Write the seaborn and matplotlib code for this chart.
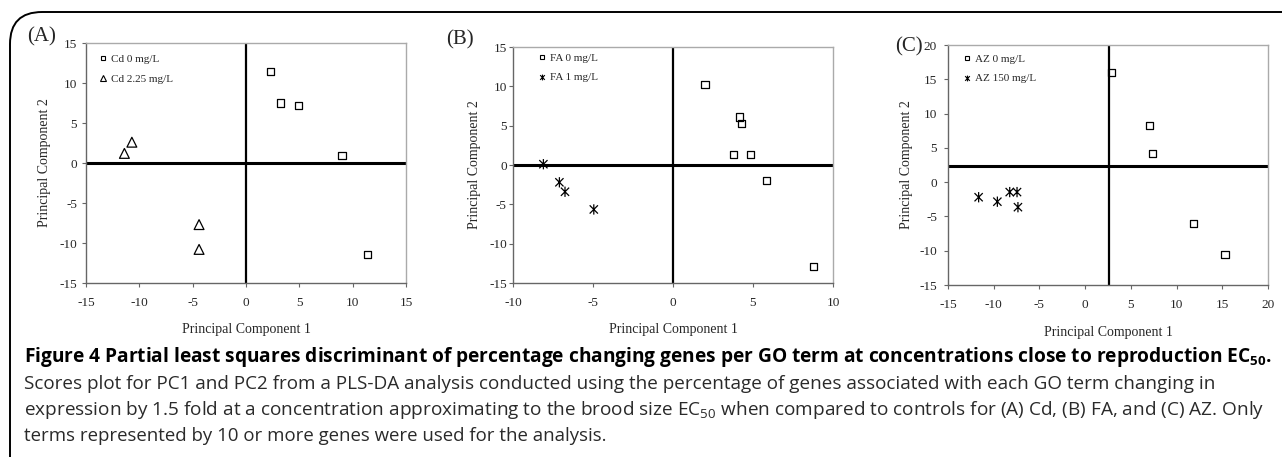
import numpy as np
import pandas as pd
import matplotlib
matplotlib.use("Agg")
import matplotlib.pyplot as plt
import seaborn as sns
from matplotlib.path import Path
from matplotlib.lines import Line2D
from matplotlib.patches import FancyBboxPatch

# ---------------- data ----------------
# Panel A (Cd)
cd0_pc1 = [2.3, 3.2, 4.9, 9.0, 11.4]
cd0_pc2 = [11.4, 7.5, 7.2, 0.9, -11.4]
cd225_pc1 = [-11.4, -10.7, -4.4, -4.4]
cd225_pc2 = [1.2, 2.6, -7.7, -10.8]
# Panel B (FA)
fa0_pc1 = [2.0, 4.15, 4.3, 3.8, 4.85, 5.85, 8.8]
fa0_pc2 = [10.2, 6.1, 5.3, 1.35, 1.35, -1.95, -12.9]
fa1_pc1 = [-8.1, -7.1, -6.75, -4.95]
fa1_pc2 = [0.1, -2.2, -3.4, -5.65]
# Panel C (AZ)
az0_pc1 = [2.85, 7.0, 7.35, 11.9, 15.3]
az0_pc2 = [16.0, 8.2, 4.2, -6.0, -10.6]
az150_pc1 = [-11.65, -9.6, -8.25, -7.45, -7.35]
az150_pc2 = [-2.2, -2.85, -1.45, -1.45, -3.65]

labels_A = ["Cd 0 mg/L", "Cd 2.25 mg/L"]
labels_B = ["FA 0 mg/L", "FA 1 mg/L"]
labels_C = ["AZ 0 mg/L", "AZ 150 mg/L"]

xlim_A, ylim_A = (-15, 15), (-15, 15)
xlim_B, ylim_B = (-10, 10), (-15, 15)
xlim_C, ylim_C = (-15, 20), (-15, 20)
cross_A = (0, 0)
cross_B = (0, 0)
cross_C = (2.57, 2.4)

title_txt = ("Figure 4 Partial least squares discriminant of percentage changing genes per GO term "
             "at concentrations close to reproduction EC$_{\\mathbf{50}}$.")
body_lines = [
    "Scores plot for PC1 and PC2 from a PLS-DA analysis conducted using the percentage of genes associated with each GO term changing in",
    "expression by 1.5 fold at a concentration approximating to the brood size EC$_{50}$ when compared to controls for (A) Cd, (B) FA, and (C) AZ. Only",
    "terms represented by 10 or more genes were used for the analysis.",
]

# ---------------- style ----------------
sns.set_theme(style="white")
plt.rcParams["font.family"] = ["Liberation Serif", "DejaVu Serif"]
plt.rcParams["axes.unicode_minus"] = False
plt.rcParams["mathtext.fontset"] = "custom"
plt.rcParams["mathtext.rm"] = "Open Sans"
plt.rcParams["mathtext.bf"] = "Open Sans:bold"

star = Path([(0, -1), (0, 1), (-0.8, -0.8), (0.8, 0.8), (-0.8, 0.8), (0.8, -0.8)],
            [Path.MOVETO, Path.LINETO, Path.MOVETO, Path.LINETO, Path.MOVETO, Path.LINETO])

W, H = 1282, 457
fig = plt.figure(figsize=(W / 100, H / 100), dpi=100)

def px_axes(l, t, r, b):
    return fig.add_axes([l / W, 1 - b / H, (r - l) / W, (b - t) / H])

panels = [
    dict(box=(86, 43, 406, 283), xs=[cd0_pc1, cd225_pc1], ys=[cd0_pc2, cd225_pc2], labels=labels_A,
         markers=["s", "^"], sizes=[26, 50], xlim=xlim_A, ylim=ylim_A, cross=cross_A,
         tag="(A)", tagpos=(42, 37), ypad=3.5, ylab=-0.109, xlab=-0.165, leg=(0.044, 0.952)),
    dict(box=(513, 47, 833, 283), xs=[fa0_pc1, fa1_pc1], ys=[fa0_pc2, fa1_pc2], labels=labels_B,
         markers=["s", star], sizes=[26, 55], xlim=xlim_B, ylim=ylim_B, cross=cross_B,
         tag="(B)", tagpos=(460, 40), ypad=1.5, ylab=-0.100, xlab=-0.168, leg=(0.080, 0.975)),
    dict(box=(948, 45, 1268, 285), xs=[az0_pc1, az150_pc1], ys=[az0_pc2, az150_pc2], labels=labels_C,
         markers=["s", star], sizes=[26, 55], xlim=xlim_C, ylim=ylim_C, cross=cross_C,
         tag="(C)", tagpos=(909, 47), ypad=5, ylab=-0.109, xlab=-0.172, leg=(0.049, 0.963)),
]

for p in panels:
    ax = px_axes(*p["box"])
    for xv, yv, lab, m, s in zip(p["xs"], p["ys"], p["labels"], p["markers"], p["sizes"]):
        df = pd.DataFrame({"pc1": xv, "pc2": yv})
        sns.scatterplot(data=df, x="pc1", y="pc2", marker=m, s=s, facecolor="none",
                        edgecolor="black", linewidth=0.9, ax=ax, zorder=3, legend=False)
    ax.axvline(p["cross"][0], color="black", lw=1.6, zorder=2)
    ax.axhline(p["cross"][1], color="black", lw=2.2, zorder=2)
    ax.set_xlim(*p["xlim"])
    ax.set_ylim(*p["ylim"])
    ax.set_xticks(np.arange(p["xlim"][0], p["xlim"][1] + 1, 5))
    ax.set_yticks(np.arange(p["ylim"][0], p["ylim"][1] + 1, 5))
    ax.tick_params(axis="both", direction="out", length=3, width=0.8, color="#666666",
                   labelsize=9.5, bottom=True, left=True)
    ax.tick_params(axis="x", pad=7)
    ax.tick_params(axis="y", pad=p["ypad"])
    for sp in ["left", "bottom"]:
        ax.spines[sp].set_color("#666666")
        ax.spines[sp].set_linewidth(1.0)
    for sp in ["top", "right"]:
        ax.spines[sp].set_color("#aaaaaa")
        ax.spines[sp].set_linewidth(1.0)
    ax.set_xlabel("Principal Component 1", fontsize=10)
    ax.set_ylabel("Principal Component 2", fontsize=10)
    ax.xaxis.set_label_coords(0.5, p["xlab"])
    ax.yaxis.set_label_coords(p["ylab"], 0.5)
    handles = [Line2D([], [], marker=m, linestyle="none", markerfacecolor="none",
                      markeredgecolor="black", markeredgewidth=0.8, markersize=ms)
               for m, ms in zip(p["markers"], [3.4, 4.2])]
    ax.legend(handles, p["labels"], loc="upper left", bbox_to_anchor=p["leg"],
              frameon=False, fontsize=8, handlelength=0.6, handletextpad=0.4,
              labelspacing=0.9, borderaxespad=0, borderpad=0)
    fig.text(p["tagpos"][0] / W, 1 - p["tagpos"][1] / H, p["tag"], fontsize=15,
             ha="center", va="center")

# rounded frame
frame = FancyBboxPatch((10 / W, -0.2), 1.3, 1 - 12 / H + 0.2,
                       boxstyle="round,pad=0,rounding_size=0.025",
                       transform=fig.transFigure, fill=False, edgecolor="black",
                       linewidth=1.4, mutation_aspect=W / H)
fig.add_artist(frame)

# caption with width fitting
fig.canvas.draw()
renderer = fig.canvas.get_renderer()

def fit_text(x, y, s, target_w, **kw):
    t = fig.text(x / W, 1 - y / H, s, **kw)
    w = t.get_window_extent(renderer).width
    t.set_fontsize(t.get_fontsize() * target_w / w)
    return t

fit_text(24, 362, title_txt, 1250, fontsize=11, fontweight="bold", family="Open Sans",
         color="black", va="baseline", ha="left")
for txt, yb, tw in zip(body_lines, [389, 415, 441], [1196, 1236, 583]):
    fit_text(24, yb, txt, tw, fontsize=11, family="Open Sans", color="#2a2a2a",
             va="baseline", ha="left")

fig.savefig("out.png", dpi=100)
